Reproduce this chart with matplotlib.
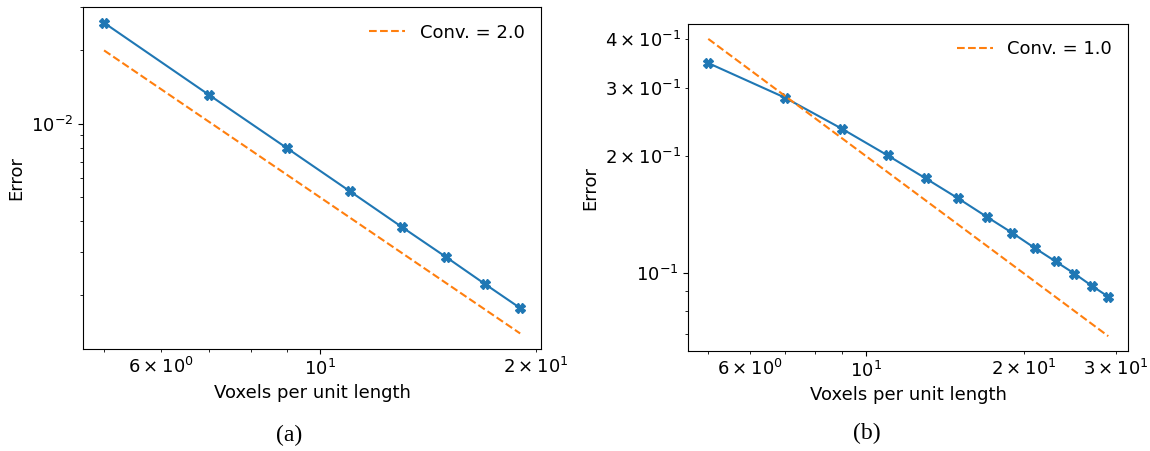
import numpy as np
import matplotlib
matplotlib.use('Agg')
import matplotlib.pyplot as plt

# (a) second-order convergence
res_a = [5, 7, 9, 11, 13, 15, 17, 19]
err_a = [0.02594, 0.01315, 0.00794, 0.00530, 0.00378, 0.00284, 0.00220, 0.00176]
ref_coef_a = 0.5   # reference line C / n^2
order_a = 2.0

# (b) first-order convergence
res_b = [5, 7, 9, 11, 13, 15, 17, 19, 21, 23, 25, 27, 29]
err_b = [0.3467, 0.2827, 0.2350, 0.2008, 0.1753, 0.1557, 0.1397,
         0.1271, 0.1161, 0.1073, 0.0998, 0.0928, 0.0871]
ref_coef_b = 2.0   # reference line C / n
order_b = 1.0

captions = ['(a)', '(b)']

plt.rcParams['font.size'] = 13

fig = plt.figure(figsize=(11.5, 4.51), dpi=100)
ax_a = fig.add_axes([0.0724, 0.2262, 0.398, 0.7576])
ax_b = fig.add_axes([0.5985, 0.2217, 0.3826, 0.725])

panels = [
    (ax_a, res_a, err_a, ref_coef_a, order_a),
    (ax_b, res_b, err_b, ref_coef_b, order_b),
]

for ax, res, err, coef, order in panels:
    res = np.array(res, dtype=float)
    ax.loglog(res, err, marker='X', color='C0', markersize=6.5)
    ax.loglog(res, coef / res ** order, '--', color='C1',
              label='Conv. = %.1f' % order)
    ax.set_xlabel('Voxels per unit length')
    ax.set_ylabel('Error')
    ax.legend(loc='upper right', frameon=False)

fig.text(0.2513, 0.035, captions[0], ha='center', va='center',
         family='Liberation Serif', fontsize=17)
fig.text(0.7535, 0.039, captions[1], ha='center', va='center',
         family='Liberation Serif', fontsize=17)

fig.savefig('out.png', dpi=100)
